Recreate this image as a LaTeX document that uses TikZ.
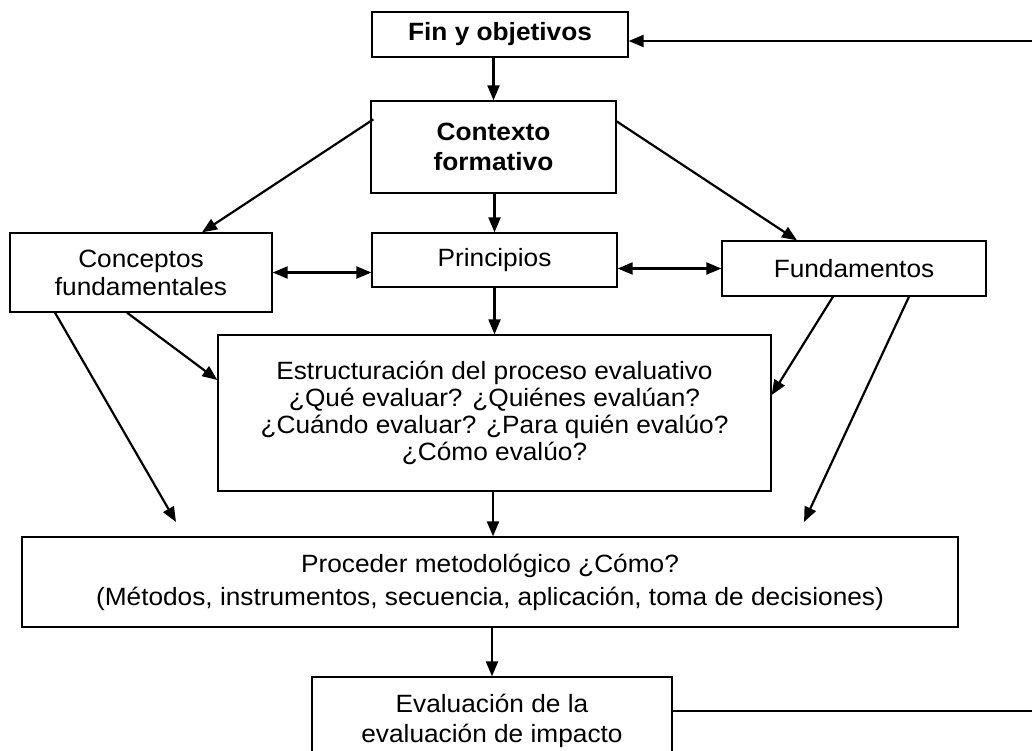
\documentclass[tikz,border=0pt]{standalone}
\usepackage{fontspec}
\setmainfont[FakeStretch=1.05]{Liberation Sans}
\usepackage{tikz}
\usetikzlibrary{positioning, arrows.meta}
\tikzset{kasten/.style={rectangle,draw,line width=1.3pt,align=center,inner sep=0},
	pfeil/.style={-{Triangle[length=15pt,width=12pt]},line width=2.2pt},
	doppelpfeil/.style={{Triangle[length=15pt,width=12pt]}-{Triangle[length=15pt,width=12pt]},line width=2.2pt},
	linie/.style={line width=2.2pt} }

\begin{document}
\begin{tikzpicture}
	[x=1pt, y=-1pt,
	 font=\fontsize{25}{27}\selectfont]

  \useasboundingbox (0,0) rectangle (1032,750);
  \clip (0,0) rectangle (1032,750);

  \node (fin) [kasten, minimum width=256pt, minimum height=45pt] at (500,34.5) {\textbf{Fin y objetivos}};
  \node (contexto) [kasten, minimum width=245pt, minimum height=92pt, font=\fontsize{25}{30}\selectfont] at (493.5,147) {\textbf{Contexto}\\\textbf{formativo}};
  \node (conceptos) [kasten, minimum width=262pt, minimum height=79pt, font=\fontsize{25}{28}\selectfont] at (141,272.5) {Conceptos\\fundamentales};
  \node (principios) [kasten, minimum width=245pt, minimum height=54pt] at (494.5,260) {Principios};
  \node (fundamentos) [kasten, minimum width=264pt, minimum height=55pt] at (854,268.5) {Fundamentos};
  \node (estructura) [kasten, minimum width=553pt, minimum height=156pt] at (494.5,413)
  	{Estructuración del proceso evaluativo\\¿Qué evaluar? ¿Quiénes evalúan?\\¿Cuándo evaluar? ¿Para quién evalúo?\\¿Cómo evalúo?};
  \node (proceder) [kasten, minimum width=936pt, minimum height=90pt, font=\fontsize{25}{33}\selectfont] at (490,582)
  	{Proceder metodológico ¿Cómo?\\(Métodos, instrumentos, secuencia, aplicación, toma de decisiones)};
  \node (evaluacion) [kasten, minimum width=360pt, minimum height=88pt, font=\fontsize{25}{30}\selectfont] at (492,721) {Evaluación de la\\evaluación de impacto};

  \coordinate (zielL) at (176,522);
  \coordinate (zielR) at (804,522);
  \coordinate (rechtsO) at (1040,41);
  \coordinate (rechtsU) at (1040,711);

  \draw [pfeil] (contexto.north |- fin.south) -- (contexto.north);
  \draw [pfeil] ([xshift=3pt,yshift=-19pt]contexto.north west) -- ([xshift=61pt]conceptos.north);
  \draw [pfeil] ([yshift=-21pt]contexto.north east) -- ([xshift=-57pt]fundamentos.north);
  \draw [pfeil] (principios.north |- contexto.south) -- (principios.north);
  \draw [doppelpfeil] (conceptos.east) -- (conceptos.east -| principios.west);
  \draw [doppelpfeil] (fundamentos.west -| principios.east) -- (fundamentos.west);
  \draw [pfeil] (principios.south) -- (principios.south |- estructura.north);
  \draw [pfeil] ([xshift=-86pt]conceptos.south) -- (zielL);
  \draw [pfeil] ([xshift=-14pt]conceptos.south) -- ([yshift=33pt]estructura.west);
  \draw [pfeil] ([xshift=-21pt]fundamentos.south) -- ([yshift=18pt]estructura.east);
  \draw [pfeil] ([xshift=55pt]fundamentos.south) -- (zielR);
  \draw [pfeil] ([xshift=-1.5pt]estructura.south) -- ([xshift=-1.5pt]estructura.south |- proceder.north);
  \draw [pfeil] (evaluacion.north |- proceder.south) -- (evaluacion.north);
  \draw [pfeil] (rechtsO) -- (rechtsO -| fin.east);
  \draw [linie] ([yshift=10pt]evaluacion.east) -- (rechtsU);
\end{tikzpicture}
\end{document}
